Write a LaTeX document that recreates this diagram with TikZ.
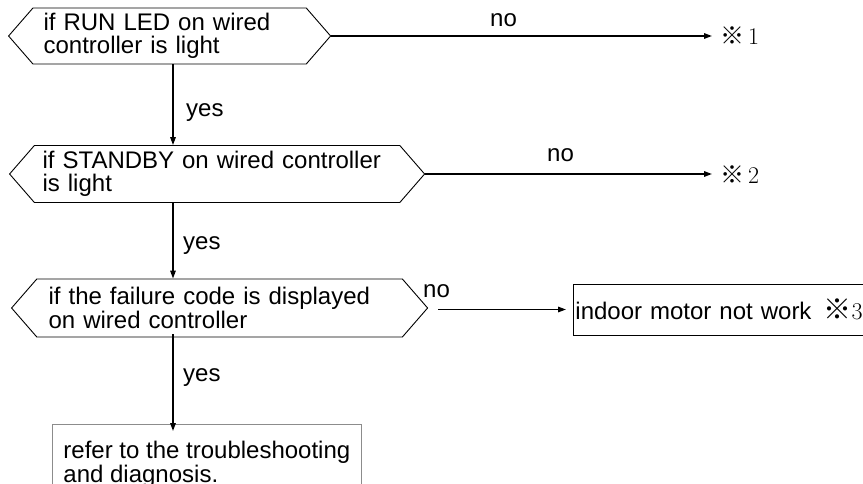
\documentclass[tikz,border=0pt]{standalone}
\usepackage{fontspec}
\setsansfont{Liberation Sans}
\renewcommand{\familydefault}{\sfdefault}
\newfontfamily\cjk{Noto Sans CJK JP}
\usetikzlibrary{positioning,arrows.meta,shapes.symbols}
\definecolor{boxgray}{RGB}{140,140,140}
\tikzset{
    query/.style={shape=signal,signal to=west and east,signal pointer angle=98,draw,line width=0.9pt,inner xsep=0pt,inner ysep=0pt,align=left,anchor=west},
    endbox/.style={rectangle,draw,line width=0.9pt,align=left,inner ysep=0pt},
    arr/.style={-{Triangle[length=8pt,width=5.5pt]},line width=1.5pt},
    tag/.style={inner sep=0pt,anchor=base west},
}
\newcommand{\refmark}[1]{{\cjk ※}\hspace{4pt}{\rmfamily #1}}

\begin{document}
\begin{tikzpicture}[x=1pt,y=-1pt,every node/.style={font=\fontsize{24}{23.5}\selectfont}]
\useasboundingbox (0,0) rectangle (863,484);
\coordinate (spine) at (173,0);
% decisions
\node[query,text width=252pt,minimum width=322pt,minimum height=56pt] (h1) at (8,36)
    {if RUN LED on wired\\controller is light};
\node[query,text width=349pt,minimum width=415pt,minimum height=57pt] (h2) at (9,174)
    {if STANDBY on wired controller\\is light};
\node[query,text width=342pt,minimum width=416pt,minimum height=58pt] (h3) at (11,308)
    {if the failure code is displayed\\on wired controller};
% outcomes
\node[inner xsep=8pt,inner ysep=0pt,anchor=west] (m1) at (712,36) {\refmark{1}};
\node[inner xsep=8pt,inner ysep=0pt,anchor=west] (m2) at (712,175) {\refmark{2}};
\node[endbox,anchor=west,text width=296pt,inner xsep=2pt,minimum height=51pt] (b3) at (573,309.5)
    {indoor motor not work\hspace{12pt}{\cjk\fontsize{28}{28}\selectfont ※}{\rmfamily 3}};
\node[endbox,draw=boxgray,anchor=north west,inner xsep=11pt,inner ysep=17pt,
      font=\fontsize{24}{21}\selectfont] (b4) at (52,424)
    {refer to the troubleshooting\\and diagnosis.\\[30pt]};
% labels
\node[tag] (n1) at (490,27)  {no};
\node[tag] (n2) at (547,162) {no};
\node[tag] (n3) at (423,297) {no};
\node[tag] (y1) at (186,117) {yes};
\node[tag] (y2) at (183,249) {yes};
\node[tag] (y3) at (183,381) {yes};
% connectors
\draw[arr] (h1.south -| spine) -- (h2.north -| spine);
\draw[arr] (h2.south -| spine) -- (h3.north -| spine);
\draw[arr] ([yshift=3pt]h3.south -| spine) -- ([yshift=-7pt]b4.north -| spine);
\draw[arr] (h1.east) -- (h1.east -| m1.west);
\draw[arr] (h2.east) -- (h2.east -| m2.west);
\draw[arr,shorten >=7pt] ([xshift=10pt]h3.east |- b3.west) -- (b3.west);
\end{tikzpicture}
\end{document}
